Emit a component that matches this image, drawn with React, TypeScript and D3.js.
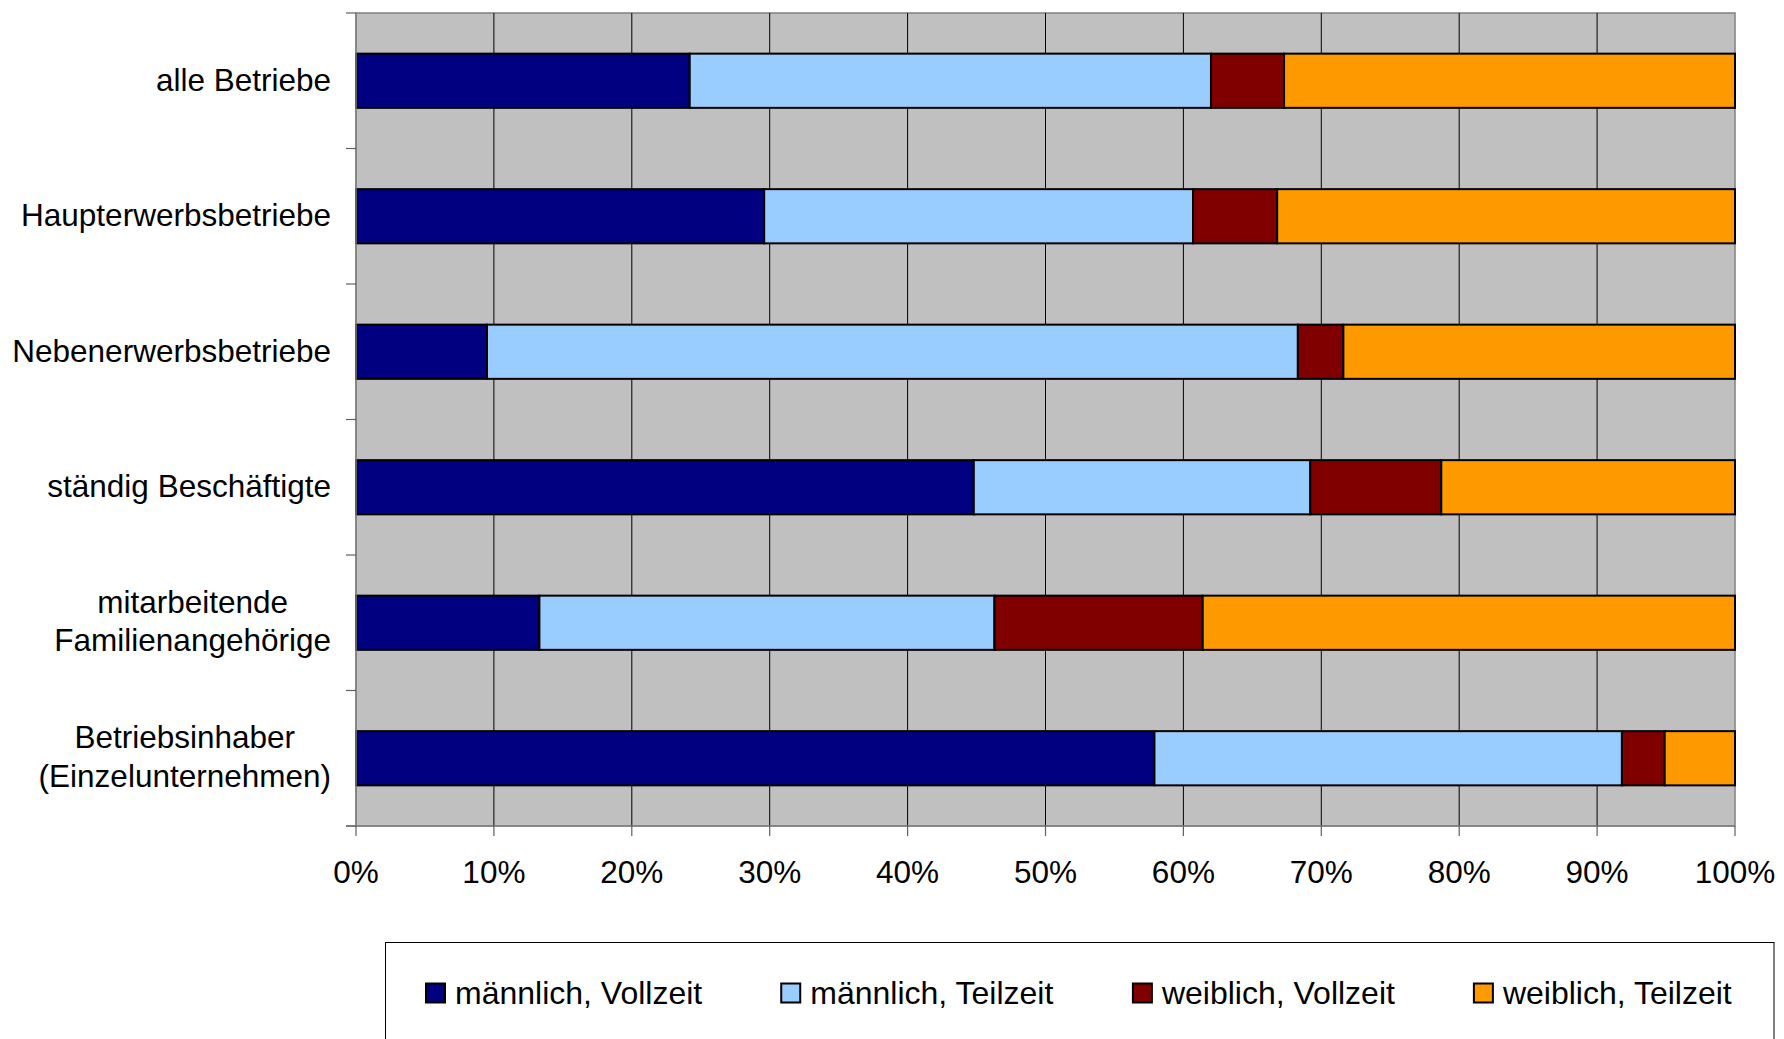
import React from "react";
import * as d3 from "d3";

const categories: string[][] = [
  ["alle Betriebe"],
  ["Haupterwerbsbetriebe"],
  ["Nebenerwerbsbetriebe"],
  ["ständig Beschäftigte"],
  ["mitarbeitende", "Familienangehörige"],
  ["Betriebsinhaber", "(Einzelunternehmen)"],
];
const seriesNames = ["männlich, Vollzeit", "männlich, Teilzeit", "weiblich, Vollzeit", "weiblich, Teilzeit"];
const maleFull = [24.2, 29.6, 9.5, 44.8, 13.3, 57.9];
const malePart = [37.8, 31.1, 58.8, 24.4, 33.0, 33.9];
const femaleFull = [5.3, 6.1, 3.3, 9.5, 15.1, 3.1];
const femalePart = [32.7, 33.2, 28.4, 21.3, 38.6, 5.1];
const tickValues = [0, 10, 20, 30, 40, 50, 60, 70, 80, 90, 100];
const colors = ["#000080", "#99CCFF", "#800000", "#FF9900"];

const W = 1784;
const H = 1039;
const FONT = "'Liberation Sans', Arial, sans-serif";
const FS = 31.5;
const LFS = 32;

function measure(text: string, size: number): number {
  const c = document.createElement("canvas");
  const ctx = c.getContext("2d");
  if (!ctx) return text.length * size * 0.5;
  ctx.font = `${size}px 'Liberation Sans', Arial, sans-serif`;
  return ctx.measureText(text).width;
}

export default function App() {
  const left = 356, right = 1735, top = 13, bottom = 826;
  const x = d3.scaleLinear().domain([0, 100]).range([left, right]);
  const idx = categories.map((_, i) => String(i));
  const y = d3.scaleBand().domain(idx).range([top, bottom]).paddingInner(0.6).paddingOuter(0.3);
  const step = y.step();

  const rows = categories.map((_, i) => [maleFull[i], malePart[i], femaleFull[i], femalePart[i]]);
  const stackData = rows.map((r) => {
    const total = d3.sum(r);
    let acc = 0;
    return r.map((v) => {
      const s = acc;
      acc += (v / total) * 100;
      return [s, acc];
    });
  });

  const legendItems: { x: number; name: string; color: string }[] = [];
  let lx = 426;
  seriesNames.forEach((n, i) => {
    legendItems.push({ x: lx, name: n, color: colors[i] });
    lx += 19 + 10 + measure(n, LFS) + 79;
  });

  return (
    <svg width={W} height={H} style={{ position: "absolute", left: 0, top: 0, display: "block" }} fontFamily={FONT}>
      <rect x={0} y={0} width={W} height={H} fill="#ffffff" />
      <rect x={left} y={top} width={right - left} height={bottom - top} fill="#C0C0C0" stroke="#808080" strokeWidth={1.5} />
      {tickValues.slice(1, -1).map((t) => (
        <line key={"g" + t} x1={x(t)} x2={x(t)} y1={top} y2={bottom} stroke="#000" strokeWidth={1} />
      ))}
      {stackData.map((segs, i) =>
        segs.map(([s, e], j) => (
          <rect
            key={`b${i}-${j}`}
            x={x(s)}
            y={y(String(i))!}
            width={x(e) - x(s)}
            height={y.bandwidth()}
            fill={colors[j]}
            stroke="#000"
            strokeWidth={2}
          />
        ))
      )}
      <line x1={left} x2={left} y1={top} y2={bottom} stroke="#808080" strokeWidth={1.5} />
      <line x1={left - 10} x2={right} y1={bottom} y2={bottom} stroke="#808080" strokeWidth={1.5} />
      {d3.range(categories.length + 1).map((k) => (
        <line key={"lt" + k} x1={left - 10} x2={left} y1={top + k * step} y2={top + k * step} stroke="#606060" strokeWidth={1.2} />
      ))}
      {tickValues.map((t) => (
        <line key={"bt" + t} x1={x(t)} x2={x(t)} y1={bottom} y2={bottom + 10} stroke="#606060" strokeWidth={1.2} />
      ))}
      {tickValues.map((t) => (
        <text key={"tl" + t} x={x(t)} y={883} fontSize={FS} textAnchor="middle" fill="#000">
          {t}%
        </text>
      ))}
      {categories.map((lines, i) => {
        const cy = (y(String(i)) as number) + y.bandwidth() / 2;
        const base = cy + 10;
        if (lines.length === 1) {
          return (
            <text key={"c" + i} x={331} y={base} fontSize={FS} textAnchor="end" fill="#000">
              {lines[0]}
            </text>
          );
        }
        const maxW = Math.max(...lines.map((l) => measure(l, FS)));
        const cx = 331 - maxW / 2;
        return (
          <g key={"c" + i}>
            {lines.map((l, k) => (
              <text key={k} x={cx} y={base - 20 + k * 38.5} fontSize={FS} textAnchor="middle" fill="#000">
                {l}
              </text>
            ))}
          </g>
        );
      })}
      <rect x={385.5} y={942.5} width={1774 - 385.5} height={120} fill="#fff" stroke="#000" strokeWidth={1} />
      {legendItems.map((it, i) => (
        <g key={"l" + i}>
          <rect x={it.x} y={983.5} width={19} height={19} fill={it.color} stroke="#000" strokeWidth={2} />
          <text x={it.x + 29} y={1004} fontSize={LFS} fill="#000">
            {it.name}
          </text>
        </g>
      ))}
    </svg>
  );
}
